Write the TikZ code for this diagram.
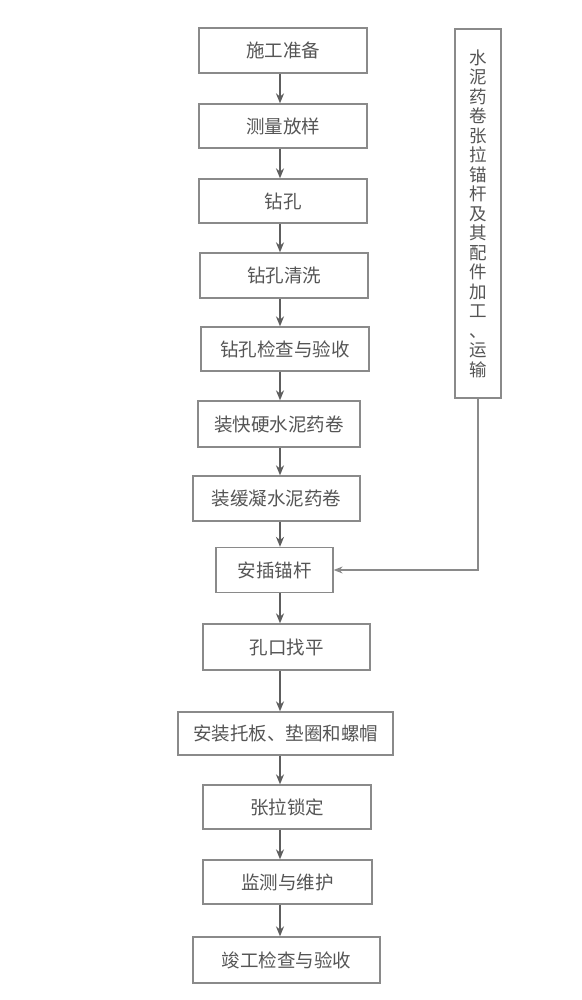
\documentclass[tikz,border=0pt]{standalone}
\usepackage{fontspec}
\newfontfamily\cjk{Noto Sans CJK SC}
\usetikzlibrary{arrows.meta}
\definecolor{txt}{HTML}{555555}
\definecolor{edge}{HTML}{8A8A8A}
\definecolor{arr}{HTML}{5E5E5E}
\tikzset{
  box/.style={draw=edge, line width=1.3pt, rectangle, inner sep=0pt, text=txt,
    font=\cjk\fontsize{18.5}{21}\selectfont},
  flow/.style={draw=arr, line width=1.4pt, -{Stealth[length=10pt,width=8pt]}},
  side/.style={draw=edge, line width=1.1pt, -{Stealth[length=9pt,width=7pt]}}
}
\begin{document}
\begin{tikzpicture}[x=1pt,y=-1pt]
\useasboundingbox[fill=white] (0,0) rectangle (581,1000);
\coordinate (ax) at (280,0);
\node[box, minimum width=168, minimum height=45] (b1) at (283,50.5) {施工准备};
\node[box, minimum width=168, minimum height=44] (b2) at (283,126) {测量放样};
\node[box, minimum width=168, minimum height=44] (b3) at (283,201) {钻孔};
\node[box, minimum width=168, minimum height=45] (b4) at (284,275.5) {钻孔清洗};
\node[box, minimum width=168, minimum height=44] (b5) at (285,349) {钻孔检查与验收};
\node[box, minimum width=162, minimum height=46] (b6) at (279,424) {装快硬水泥药卷};
\node[box, minimum width=167, minimum height=45] (b7) at (276.5,498.5) {装缓凝水泥药卷};
\node[box, minimum width=117, minimum height=45] (b8) at (274.5,570) {安插锚杆};
\node[box, minimum width=167, minimum height=46] (b9) at (286.5,647) {孔口找平};
\node[box, minimum width=215, minimum height=43] (b10) at (285.5,733.5) {安装托板、垫圈和螺帽};
\node[box, minimum width=168, minimum height=44] (b11) at (287,807) {张拉锁定};
\node[box, minimum width=169, minimum height=44] (b12) at (287.5,882) {监测与维护};
\node[box, minimum width=187, minimum height=46] (b13) at (286.5,960) {竣工检查与验收};
\node[box, minimum width=46, minimum height=369, align=center,
  font=\cjk\fontsize{17.5}{19.5}\selectfont] (rb) at (478,213.5)
  {水\\泥\\药\\卷\\张\\拉\\锚\\杆\\及\\其\\配\\件\\加\\工\\、\\运\\输};
\foreach \a/\b in {b1/b2,b2/b3,b3/b4,b4/b5,b5/b6,b6/b7,b7/b8,b8/b9,b9/b10,b10/b11,b11/b12,b12/b13}
  \draw[flow] (\a.south -| ax) -- (\b.north -| ax);
\draw[side] (rb.south) |- (b8.east);
\end{tikzpicture}
\end{document}
